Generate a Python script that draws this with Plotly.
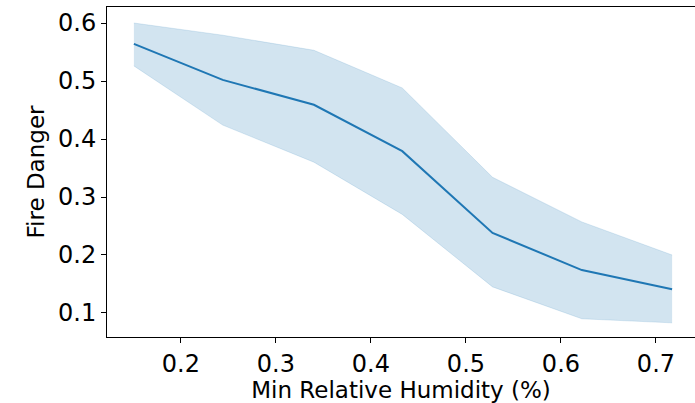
import plotly.graph_objects as go

humidity = [0.1505, 0.244, 0.340, 0.433, 0.528, 0.622, 0.717]
danger_mean = [0.564, 0.502, 0.459, 0.379, 0.238, 0.174, 0.141]
danger_upper = [0.600, 0.579, 0.553, 0.488, 0.334, 0.257, 0.200]
danger_lower = [0.526, 0.424, 0.360, 0.270, 0.145, 0.090, 0.083]

x_ticks = [0.2, 0.3, 0.4, 0.5, 0.6, 0.7]
y_ticks = [0.1, 0.2, 0.3, 0.4, 0.5, 0.6]

blue = "#1f77b4"
band = "rgba(31,119,180,0.2)"

fig = go.Figure()
fig.add_trace(go.Scatter(x=humidity, y=danger_upper, mode="lines",
                         line=dict(color="rgba(31,119,180,0.15)", width=1),
                         showlegend=False, hoverinfo="skip"))
fig.add_trace(go.Scatter(x=humidity, y=danger_lower, mode="lines",
                         line=dict(color="rgba(31,119,180,0.15)", width=1),
                         fill="tonexty", fillcolor=band,
                         showlegend=False, hoverinfo="skip"))
fig.add_trace(go.Scatter(x=humidity, y=danger_mean, mode="lines",
                         line=dict(color=blue, width=2), showlegend=False))

font = "DejaVu Sans"
fig.update_layout(
    width=695, height=403,
    margin=dict(l=107, r=0, t=7, b=66),
    paper_bgcolor="white", plot_bgcolor="white",
    font=dict(family=font, color="black"),
    xaxis=dict(
        range=[0.1222, 0.7411], tickvals=x_ticks,
        ticktext=[f"{v:.1f}" for v in x_ticks],
        showgrid=False, zeroline=False,
        showline=True, linecolor="black", linewidth=1, mirror=True,
        ticks="outside", ticklen=5, tickcolor="black", tickwidth=1,
        tickfont=dict(size=24, family=font),
        title=dict(text="Min Relative Humidity (%)", font=dict(size=23, family=font), standoff=5),
    ),
    yaxis=dict(
        range=[0.0586, 0.6276], tickvals=y_ticks,
        ticktext=[f"{v:.1f}" for v in y_ticks],
        showgrid=False, zeroline=False,
        showline=True, linecolor="black", linewidth=1,
        ticks="outside", ticklen=5, tickcolor="black", tickwidth=1,
        tickfont=dict(size=24, family=font),
        title=dict(text="Fire Danger", font=dict(size=23, family=font), standoff=6),
    ),
)

fig.write_html("out.html")
